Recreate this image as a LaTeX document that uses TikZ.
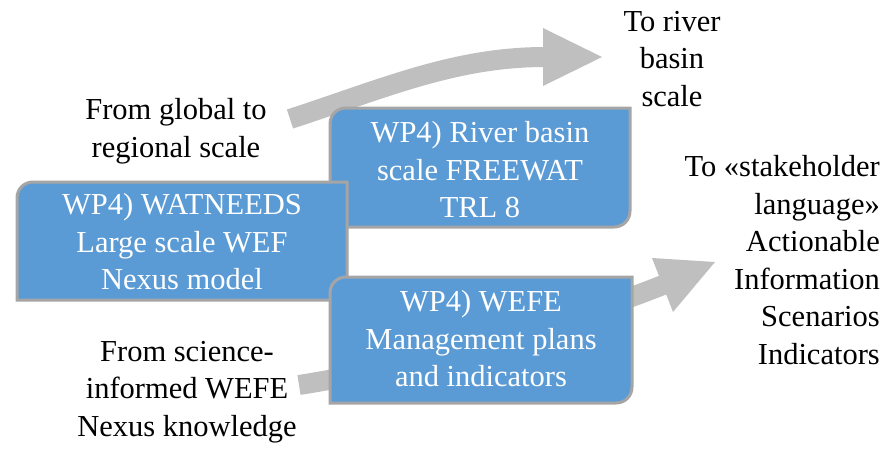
\documentclass[tikz,border=0pt]{standalone}
\usepackage{fontspec}
\setmainfont{Liberation Serif}
\definecolor{boxblue}{HTML}{5B9BD5}
\definecolor{boxedge}{HTML}{A5A5A5}
\definecolor{arrowgray}{HTML}{BFBFBF}
\tikzset{
  boxshape/.style={fill=boxblue, draw=boxedge, line width=3pt},
  boxtext/.style={text=white, align=center, inner sep=0pt, font=\fontsize{30.5}{37.5}\selectfont},
  outtext/.style={text=black, inner sep=0pt, font=\fontsize{30.5}{37.5}\selectfont},
  shaft/.style={draw=arrowgray, line width=20pt},
  headtri/.style={fill=arrowgray},
}
\begin{document}
\begin{tikzpicture}[x=1pt,y=-1pt]
\useasboundingbox (0,0) rectangle (884,451);
% top arrow
\coordinate (t1) at (290,119);
\coordinate (t2) at (545,57);
\draw[shaft] (t1) .. controls (385,88) and (455,57) .. (t2);
\fill[headtri] (543,28) -- (602,57) -- (543,86) -- cycle;
% bottom arrow
\coordinate (b1) at (299,385);
\coordinate (b2) at (663,285);
\draw[shaft] (b1) .. controls (420,366) and (570,322) .. (b2);
\fill[headtri] (652,258) -- (715,262) -- (673,312) -- cycle;
% box 2
\draw[boxshape] (330,227) -- (330,124) .. controls (330,115) and (337,108) .. (346,108) -- (630,108) -- (630,211) .. controls (630,220) and (623,227) .. (614,227) -- cycle;
% box 1
\draw[boxshape] (17,300) -- (17,198) .. controls (17,189) and (24,182) .. (33,182) -- (347,182) -- (347,300) -- cycle;
% box 3
\draw[boxshape] (330,403) -- (330,293) .. controls (330,284) and (337,277) .. (346,277) -- (632,277) -- (632,387) .. controls (632,396) and (625,403) .. (616,403) -- cycle;
% box texts
\node[boxtext] (watneeds) at (182,242) {WP4) WATNEEDS\\Large scale WEF\\Nexus model};
\node[boxtext] (freewat) at (480,170) {WP4) River basin\\scale FREEWAT\\TRL 8};
\node[boxtext] (wefe) at (481,339) {WP4) WEFE\\Management plans\\and indicators};
% outside texts
\node[outtext, align=center] (global) at (176,131) {From global to\\regional scale};
\node[outtext, align=center] (river) at (672,59) {To river\\basin\\scale};
\node[outtext, align=right, anchor=east] (stake) at (880,260) {To «stakeholder\\language»\\Actionable\\Information\\Scenarios\\Indicators};
\node[outtext, align=center] (science) at (187,392) {From science-\\informed WEFE\\Nexus knowledge};
\end{tikzpicture}
\end{document}
